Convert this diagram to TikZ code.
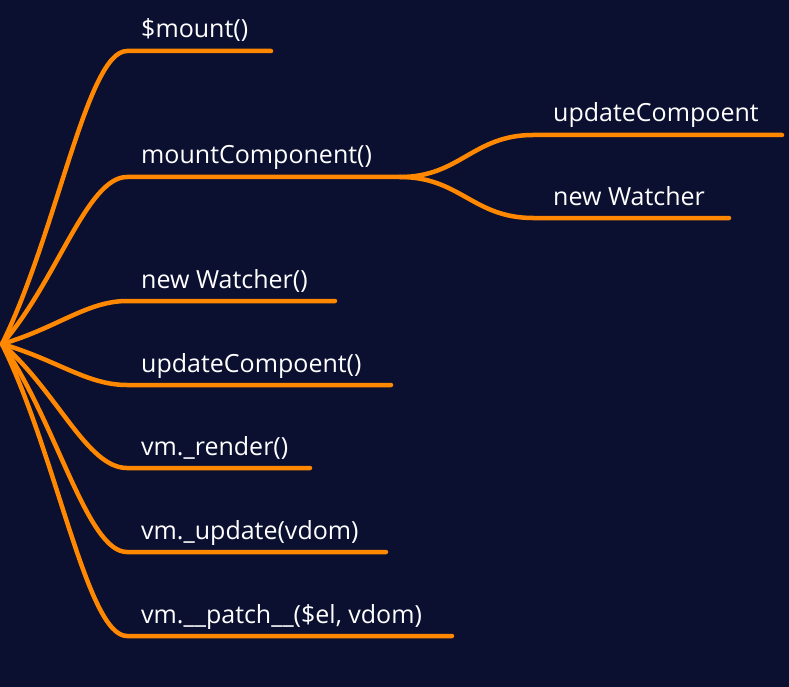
\documentclass[tikz,border=0pt]{standalone}
\usepackage{fontspec}
\setmainfont{Open Sans}
\definecolor{bg}{HTML}{0B0F30}
\definecolor{branchorange}{HTML}{FF8800}

\begin{document}
\begin{tikzpicture}[x=1pt, y=-1pt,
        branch/.style={draw=branchorange, line width=4.5pt, line cap=round},
        label/.style={anchor=base west, inner sep=0pt, text=white, font=\fontsize{25}{30}\selectfont}]

        \fill[bg] (0,0) rectangle (789,687);
        \useasboundingbox (0,0) rectangle (789,687);

        \coordinate (root) at (2,344);
        \coordinate (fork) at (400,177);

        \node[label] (mount) at (141,38) {\$mount()};
        \node[label] (mc) at (141,164) {mountComponent()};
        \node[label] (watcher) at (141,288) {new Watcher()};
        \node[label] (update) at (141,372) {updateCompoent()};
        \node[label] (render) at (141,455) {vm.\_render()};
        \node[label] (vupdate) at (141,539) {vm.\_update(vdom)};
        \node[label] (patch) at (141,623) {vm.\_\_patch\_\_(\$el, vdom)};
        \node[label] (subupdate) at (553,122) {updateCompoent};
        \node[label] (subwatcher) at (553,205) {new Watcher};

        % knees and ends of the lines under the labels
        \coordinate (mount-k) at (127,51);     \coordinate (mount-e) at (271,51);
        \coordinate (mc-k) at (127,177);
        \coordinate (watcher-k) at (127,301);  \coordinate (watcher-e) at (335,301);
        \coordinate (update-k) at (127,385);   \coordinate (update-e) at (391,385);
        \coordinate (render-k) at (127,468);   \coordinate (render-e) at (310,468);
        \coordinate (vupdate-k) at (127,552);  \coordinate (vupdate-e) at (386,552);
        \coordinate (patch-k) at (127,636);    \coordinate (patch-e) at (452,636);
        \coordinate (subupdate-k) at (533,135);  \coordinate (subupdate-e) at (782,135);
        \coordinate (subwatcher-k) at (533,218); \coordinate (subwatcher-e) at (729,218);

        \draw[branch] (root) .. controls +(55,-111) and +(-40,0) .. (mount-k) -- (mount-e);
        \draw[branch] (root) .. controls +(55,-63) and +(-40,0) .. (mc-k) -- (fork);
        \draw[branch] (root) .. controls +(55,-16) and +(-40,0) .. (watcher-k) -- (watcher-e);
        \draw[branch] (root) .. controls +(55,16) and +(-40,0) .. (update-k) -- (update-e);
        \draw[branch] (root) .. controls +(55,47) and +(-40,0) .. (render-k) -- (render-e);
        \draw[branch] (root) .. controls +(55,79) and +(-40,0) .. (vupdate-k) -- (vupdate-e);
        \draw[branch] (root) .. controls +(55,111) and +(-40,0) .. (patch-k) -- (patch-e);

        \draw[branch] (fork) .. controls +(60,0) and +(-60,0) .. (subupdate-k) -- (subupdate-e);
        \draw[branch] (fork) .. controls +(60,0) and +(-60,0) .. (subwatcher-k) -- (subwatcher-e);

\end{tikzpicture}
\end{document}
